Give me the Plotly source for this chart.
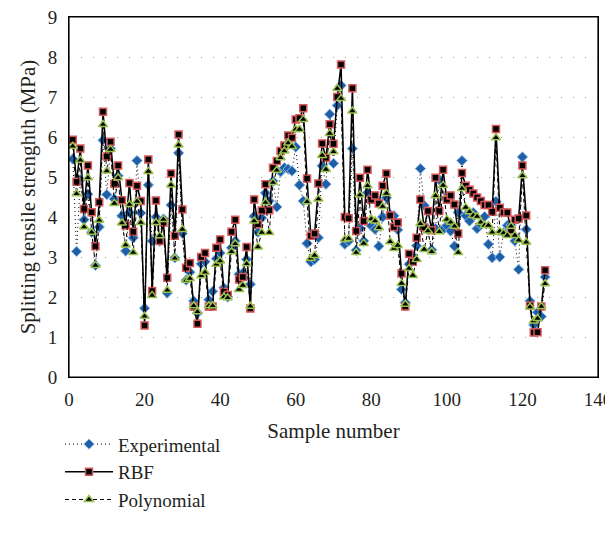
import plotly.graph_objects as go

samples = list(range(1, 127))

experimental = [
    5.45, 3.14, 4.93, 3.93, 4.57, 3.62, 2.79, 3.75, 5.92, 4.56,
    5.71, 4.45, 5.03, 4.03, 3.15, 4.11, 3.48, 5.41, 4.10, 1.72,
    4.80, 3.40, 4.00, 3.40, 3.95, 2.10, 4.30, 2.98, 5.60, 3.59,
    2.42, 2.62, 1.90, 1.60, 2.83, 2.88, 1.93, 2.14, 2.96, 3.10,
    2.23, 2.00, 3.23, 3.40, 2.57, 2.60, 2.94, 2.32, 4.02, 3.62,
    3.98, 4.60, 4.40, 4.90, 4.25, 5.13, 5.23, 5.20, 5.15, 5.75,
    4.80, 4.40, 3.34, 2.88, 2.94, 3.48, 5.28, 4.82, 6.57, 5.34,
    6.79, 7.29, 3.32, 3.40, 5.71, 3.17, 3.72, 3.40, 4.61, 3.78,
    3.69, 3.27, 4.00, 4.48, 4.06, 4.03, 3.68, 2.19, 1.86, 2.82,
    3.03, 3.28, 5.21, 4.29, 3.69, 3.18, 3.71, 4.93, 3.69, 3.78,
    3.65, 3.27, 4.11, 5.41, 4.03, 3.90, 4.11, 3.71, 3.80, 4.01,
    3.32, 2.98, 4.39, 3.00, 3.61, 3.79, 3.80, 3.40, 2.69, 5.50,
    3.69, 1.90, 1.30, 1.62, 1.51, 2.50,
]

rbf = [
    5.93, 4.88, 5.71, 4.20, 5.29, 4.12, 3.27, 4.37, 6.63, 5.51,
    5.88, 4.83, 5.29, 4.42, 3.79, 4.85, 3.63, 4.78, 4.40, 1.29,
    5.44, 2.15, 4.41, 3.40, 3.86, 2.48, 5.09, 3.53, 6.06, 4.19,
    2.73, 2.85, 1.76, 1.33, 3.00, 3.10, 1.76, 1.76, 3.23, 3.44,
    2.13, 2.05, 3.63, 3.93, 2.44, 2.50, 3.25, 1.71, 4.44, 3.82,
    4.16, 4.82, 4.17, 5.23, 5.40, 5.65, 5.79, 6.04, 5.98, 6.44,
    6.47, 6.72, 4.96, 3.53, 3.59, 4.84, 5.84, 5.48, 6.32, 5.83,
    7.00, 7.81, 4.00, 3.97, 7.22, 3.65, 4.98, 3.90, 5.18, 4.43,
    4.54, 4.34, 4.78, 5.09, 4.04, 3.75, 3.86, 2.59, 1.76, 3.08,
    2.88, 3.48, 4.44, 3.74, 4.15, 3.67, 4.98, 4.15, 5.18, 4.43,
    4.54, 4.31, 3.59, 5.10, 4.78, 4.68, 4.59, 4.49, 4.40, 4.30,
    4.30, 4.13, 6.20, 4.23, 4.11, 4.11, 3.67, 3.93, 3.96, 5.29,
    4.04, 1.79, 1.11, 1.12, 1.76, 2.67,
]

polynomial = [
    5.77, 4.58, 5.42, 3.75, 4.98, 3.62, 2.79, 3.92, 6.31, 5.15,
    5.69, 4.34, 4.98, 3.85, 3.30, 4.31, 3.11, 4.39, 3.86, 1.52,
    5.14, 2.04, 3.86, 3.53, 3.94, 2.17, 4.80, 2.97, 5.80, 3.69,
    2.42, 2.46, 1.78, 1.63, 2.53, 2.62, 1.78, 1.78, 2.82, 2.90,
    2.00, 1.98, 3.13, 3.33, 2.19, 2.29, 2.83, 1.77, 3.90, 3.25,
    3.61, 4.36, 3.61, 4.86, 5.17, 5.48, 5.65, 5.85, 5.76, 6.19,
    6.19, 6.44, 4.38, 2.97, 3.04, 4.45, 5.54, 5.19, 6.09, 5.63,
    7.21, 6.96, 3.44, 3.46, 6.65, 3.11, 4.55, 3.34, 4.78, 3.95,
    3.90, 3.73, 4.26, 4.59, 3.38, 3.21, 3.29, 2.34, 1.82, 2.71,
    2.54, 2.94, 3.83, 3.19, 3.65, 3.13, 4.53, 3.63, 4.79, 3.94,
    3.87, 3.77, 3.11, 4.71, 4.24, 4.13, 4.04, 4.01, 3.87, 3.79,
    3.79, 3.62, 5.98, 3.64, 3.60, 3.54, 3.77, 3.54, 3.42, 5.03,
    3.37, 1.75, 1.40, 1.46, 1.76, 2.33,
]

x_ticks = [0, 20, 40, 60, 80, 100, 120, 140]
y_ticks = [0, 1, 2, 3, 4, 5, 6, 7, 8, 9]

FONT = "Liberation Serif, Times New Roman, DejaVu Serif, serif"
TXT = "#231f20"

fig = go.Figure()
fig.add_trace(go.Scatter(
    x=samples, y=experimental, name="Experimental", mode="lines+markers",
    line=dict(color="black", width=1, dash="1px,3px"),
    marker=dict(symbol="diamond", size=8, color="#1f5fa8",
                line=dict(color="#8ab8e6", width=1)),
))
fig.add_trace(go.Scatter(
    x=samples, y=rbf, name="RBF", mode="lines+markers",
    line=dict(color="black", width=1.5),
    marker=dict(symbol="square", size=7, color="black",
                line=dict(color="#d9585a", width=1.5)),
))
fig.add_trace(go.Scatter(
    x=samples, y=polynomial, name="Polynomial", mode="lines+markers",
    line=dict(color="black", width=1, dash="4px,3px"),
    marker=dict(symbol="triangle-up", size=8, color="black",
                line=dict(color="#9bc34f", width=1.5)),
))

fig.update_layout(
    width=605, height=525,
    margin=dict(l=61, r=15, t=9, b=156, autoexpand=False),
    paper_bgcolor="white", plot_bgcolor="white",
    font=dict(family=FONT, size=19, color=TXT),
    showlegend=True,
    legend=dict(
        x=-0.017, y=-0.134, xanchor="left", yanchor="top",
        font=dict(family=FONT, size=19, color=TXT),
        bgcolor="rgba(0,0,0,0)", tracegroupgap=0, itemwidth=48,
    ),
    shapes=[dict(type="rect", xref="paper", yref="paper",
                 x0=0, y0=0, x1=1, y1=1,
                 line=dict(color="black", width=1.2), layer="above")],
    xaxis=dict(
        range=[0, 140], tickvals=x_ticks, ticks="",
        showline=True, linecolor="black", linewidth=1, mirror=True,
        showgrid=False, zeroline=False, automargin=False,
        ticklabeloverflow="allow",
        title=dict(text="Sample number", standoff=14,
                   font=dict(family=FONT, size=21, color=TXT)),
        tickfont=dict(family=FONT, size=19, color=TXT),
        ticklabelstandoff=5,
    ),
    yaxis=dict(
        range=[0, 9], tickvals=y_ticks, ticks="",
        showline=True, linecolor="black", linewidth=1, mirror=True,
        showgrid=True, gridcolor="#9a9a9a", gridwidth=1, griddash="1px,11px",
        zeroline=False, automargin=False,
        ticklabeloverflow="allow",
        title=dict(text="Splitting tensile strenghth (MPa)", standoff=6,
                   font=dict(family=FONT, size=21, color=TXT)),
        tickfont=dict(family=FONT, size=19, color=TXT),
        ticklabelstandoff=7,
    ),
)

fig.write_html("out.html")
